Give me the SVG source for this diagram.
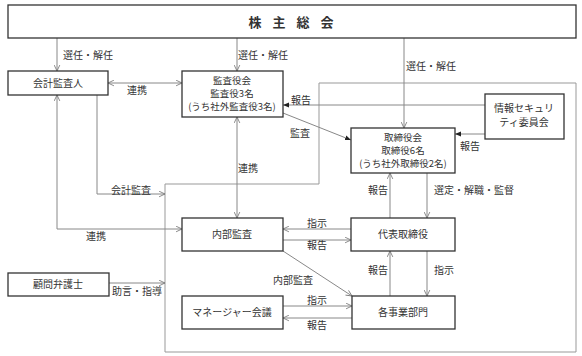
<svg xmlns="http://www.w3.org/2000/svg" width="582" height="356" viewBox="0 0 582 356">
<style>
text{font-family:"Noto Sans CJK JP","Noto Sans",sans-serif;font-size:10px;fill:#333;text-anchor:middle}
.lbl{text-anchor:start}
.ml{font-size:9.5px}
.box{fill:#fff;stroke:#333;stroke-width:1.3}
.ln{fill:none;stroke:#888;stroke-width:1}
.title{font-size:13px;font-weight:bold;word-spacing:8px}
</style>
<defs>
<marker id="op" viewBox="0 0 10 10" refX="9.5" refY="5" markerWidth="7" markerHeight="7" orient="auto-start-reverse" markerUnits="userSpaceOnUse"><path d="M1,1 L9.5,5 L1,9" fill="none" stroke="#777" stroke-width="1.2"/></marker>
<marker id="fl" viewBox="0 0 10 10" refX="10" refY="5" markerWidth="6" markerHeight="6" orient="auto" markerUnits="userSpaceOnUse"><path d="M0,1 L10,5 L0,9 Z" fill="#222"/></marker>
</defs>
<rect x="0" y="0" width="582" height="356" fill="#fff"/>
<g id="container"><path d="M319,83 H576 V352 H165 V184 H319 Z" fill="none" stroke="#999" stroke-width="1"/></g>
<g id="connectors">
<line class="ln" x1="57" y1="38" x2="57" y2="71" marker-end="url(#op)"/>
<line class="ln" x1="237" y1="38" x2="237" y2="71" marker-end="url(#op)"/>
<line class="ln" x1="404" y1="38" x2="404" y2="128" marker-end="url(#op)"/>
<line class="ln" x1="108" y1="83" x2="182" y2="83" marker-start="url(#op)" marker-end="url(#op)"/>
<line class="ln" x1="485" y1="105" x2="283" y2="105" marker-end="url(#fl)"/>
<line class="ln" x1="485" y1="134" x2="455" y2="134" marker-end="url(#fl)"/>
<line class="ln" x1="283" y1="113" x2="351" y2="140" marker-end="url(#fl)"/>
<line class="ln" x1="237" y1="117" x2="237" y2="218" marker-start="url(#op)" marker-end="url(#op)"/>
<polyline class="ln" points="57,95 57,229 182,229" marker-start="url(#op)" marker-end="url(#op)"/>
<polyline class="ln" points="97,95 97,194 165,194" marker-end="url(#op)"/>
<line class="ln" x1="109" y1="283" x2="165" y2="283" marker-end="url(#op)"/>
<line class="ln" x1="390" y1="218" x2="390" y2="173" marker-end="url(#op)"/>
<line class="ln" x1="427" y1="173" x2="427" y2="218" marker-end="url(#op)"/>
<line class="ln" x1="351" y1="229" x2="283" y2="229" marker-end="url(#op)"/>
<line class="ln" x1="283" y1="240" x2="351" y2="240" marker-end="url(#op)"/>
<line class="ln" x1="390" y1="296" x2="390" y2="251" marker-end="url(#op)"/>
<line class="ln" x1="427" y1="251" x2="427" y2="296" marker-end="url(#op)"/>
<line class="ln" x1="283" y1="251" x2="352" y2="296" marker-end="url(#op)"/>
<line class="ln" x1="283" y1="306" x2="352" y2="306" marker-end="url(#op)"/>
<line class="ln" x1="352" y1="318" x2="283" y2="318" marker-end="url(#op)"/>
<text class="lbl" x="63" y="59">選任・解任</text>
<text class="lbl" x="238" y="59">選任・解任</text>
<text class="lbl" x="406" y="70">選任・解任</text>
<text class="lbl" x="127" y="94">連携</text>
<text class="lbl" x="291" y="104">報告</text>
<text class="lbl" x="290" y="137">監査</text>
<text class="lbl" x="460" y="150">報告</text>
<text class="lbl" x="238" y="172">連携</text>
<text class="lbl" x="111" y="194">会計監査</text>
<text class="lbl" x="368" y="194">報告</text>
<text class="lbl" x="434" y="194">選定・解職・監督</text>
<text class="lbl" x="307" y="227">指示</text>
<text class="lbl" x="86" y="240">連携</text>
<text class="lbl" x="307" y="249">報告</text>
<text class="lbl" x="368" y="274">報告</text>
<text class="lbl" x="434" y="274">指示</text>
<text class="lbl" x="273" y="284">内部監査</text>
<text class="lbl" x="112" y="295">助言・指導</text>
<text class="lbl" x="307" y="304">指示</text>
<text class="lbl" x="307" y="329">報告</text>
</g>
<g id="shareholders"><rect class="box" x="8" y="5" width="568" height="33"/><text class="title" x="291" y="27">株 主 総 会</text></g>
<g id="auditor"><rect class="box" x="8" y="71" width="100" height="24"/><text x="58" y="87">会計監査人</text></g>
<g id="audit-board"><rect class="box" x="182" y="71" width="101" height="46"/><text class="ml" x="232" y="84">監査役会</text><text class="ml" x="232" y="97">監査役3名</text><text class="ml" x="232" y="110">(うち社外監査役3名)</text></g>
<g id="board"><rect class="box" x="351" y="128" width="104" height="45"/><text class="ml" x="403" y="141">取締役会</text><text class="ml" x="403" y="154">取締役6名</text><text class="ml" x="403" y="167">(うち社外取締役2名)</text></g>
<g id="security"><rect class="box" x="485" y="94" width="79" height="45"/><text x="524" y="112">情報セキュリ</text><text x="524" y="126">ティ委員会</text></g>
<g id="internal-audit"><rect class="box" x="182" y="218" width="101" height="33"/><text x="232" y="238">内部監査</text></g>
<g id="ceo"><rect class="box" x="351" y="218" width="104" height="33"/><text x="403" y="238">代表取締役</text></g>
<g id="lawyer"><rect class="box" x="8" y="273" width="101" height="23"/><text x="58" y="288">顧問弁護士</text></g>
<g id="manager"><rect class="box" x="182" y="296" width="101" height="33"/><text x="232" y="316">マネージャー会議</text></g>
<g id="divisions"><rect class="box" x="352" y="296" width="103" height="33"/><text x="403" y="316">各事業部門</text></g>
</svg>
